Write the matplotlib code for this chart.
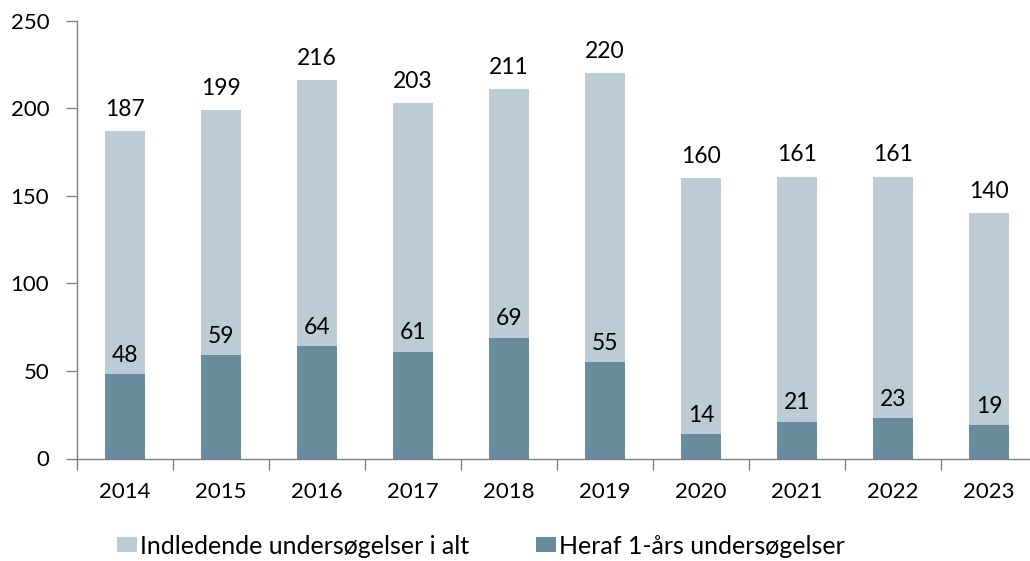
import matplotlib
matplotlib.use("Agg")
import matplotlib.pyplot as plt
from matplotlib.patches import Patch

years = ["2014", "2015", "2016", "2017", "2018", "2019", "2020", "2021", "2022", "2023"]
total = [187, 199, 216, 203, 211, 220, 160, 161, 161, 140]
one_year = [48, 59, 64, 61, 69, 55, 14, 21, 23, 19]
labels = ["Indledende undersøgelser i alt", "Heraf 1-års undersøgelser"]

light = "#BCCCD4"
dark = "#6A8B9B"

plt.rcParams['font.family'] = ['Lato', 'DejaVu Sans']
fig = plt.figure(figsize=(10.30, 5.61), dpi=100)
ax = fig.add_axes([77/1030, (561-458.5)/561, 960/1030, (458.5-20.7)/561])

x = list(range(len(years)))
w = 0.41
ax.bar(x, total, width=w, color=light, zorder=2)
ax.bar(x, one_year, width=w, color=dark, zorder=3)

for xi, t, o in zip(x, total, one_year):
    ax.annotate(str(t), (xi, t), xytext=(0, 8), textcoords="offset points",
                ha="center", va="bottom", fontsize=16.5, color="black")
    ax.annotate(str(o), (xi, o), xytext=(0, 6), textcoords="offset points",
                ha="center", va="bottom", fontsize=16.5, color="black", zorder=4)

ax.set_xlim(-0.5, 9.5)
ax.set_ylim(0, 250)
ax.set_yticks([0, 50, 100, 150, 200, 250])
ax.tick_params(axis='y', labelsize=16, length=8, width=1, color="#808080", pad=12)

ax.set_xticks(x)
ax.set_xticklabels(years)
ax.set_xticks([i - 0.5 for i in range(len(years) + 1)], minor=True)
ax.tick_params(axis='x', which='major', length=0, labelsize=16, pad=17)
ax.tick_params(axis='x', which='minor', length=8, width=1, color="#808080")

for s in ["top", "right"]:
    ax.spines[s].set_visible(False)
for s in ["left", "bottom"]:
    ax.spines[s].set_color("#808080")
    ax.spines[s].set_linewidth(1)

handles = [Patch(facecolor=light, label=labels[0]), Patch(facecolor=dark, label=labels[1])]
fig.legend(handles=handles, loc="center", bbox_to_anchor=(481/1030, 1 - 546/561),
           ncol=2, frameon=False, fontsize=18, handlelength=0.8, handleheight=0.56,
           handletextpad=0.12, columnspacing=2.7)

fig.savefig("out.png", dpi=100)
